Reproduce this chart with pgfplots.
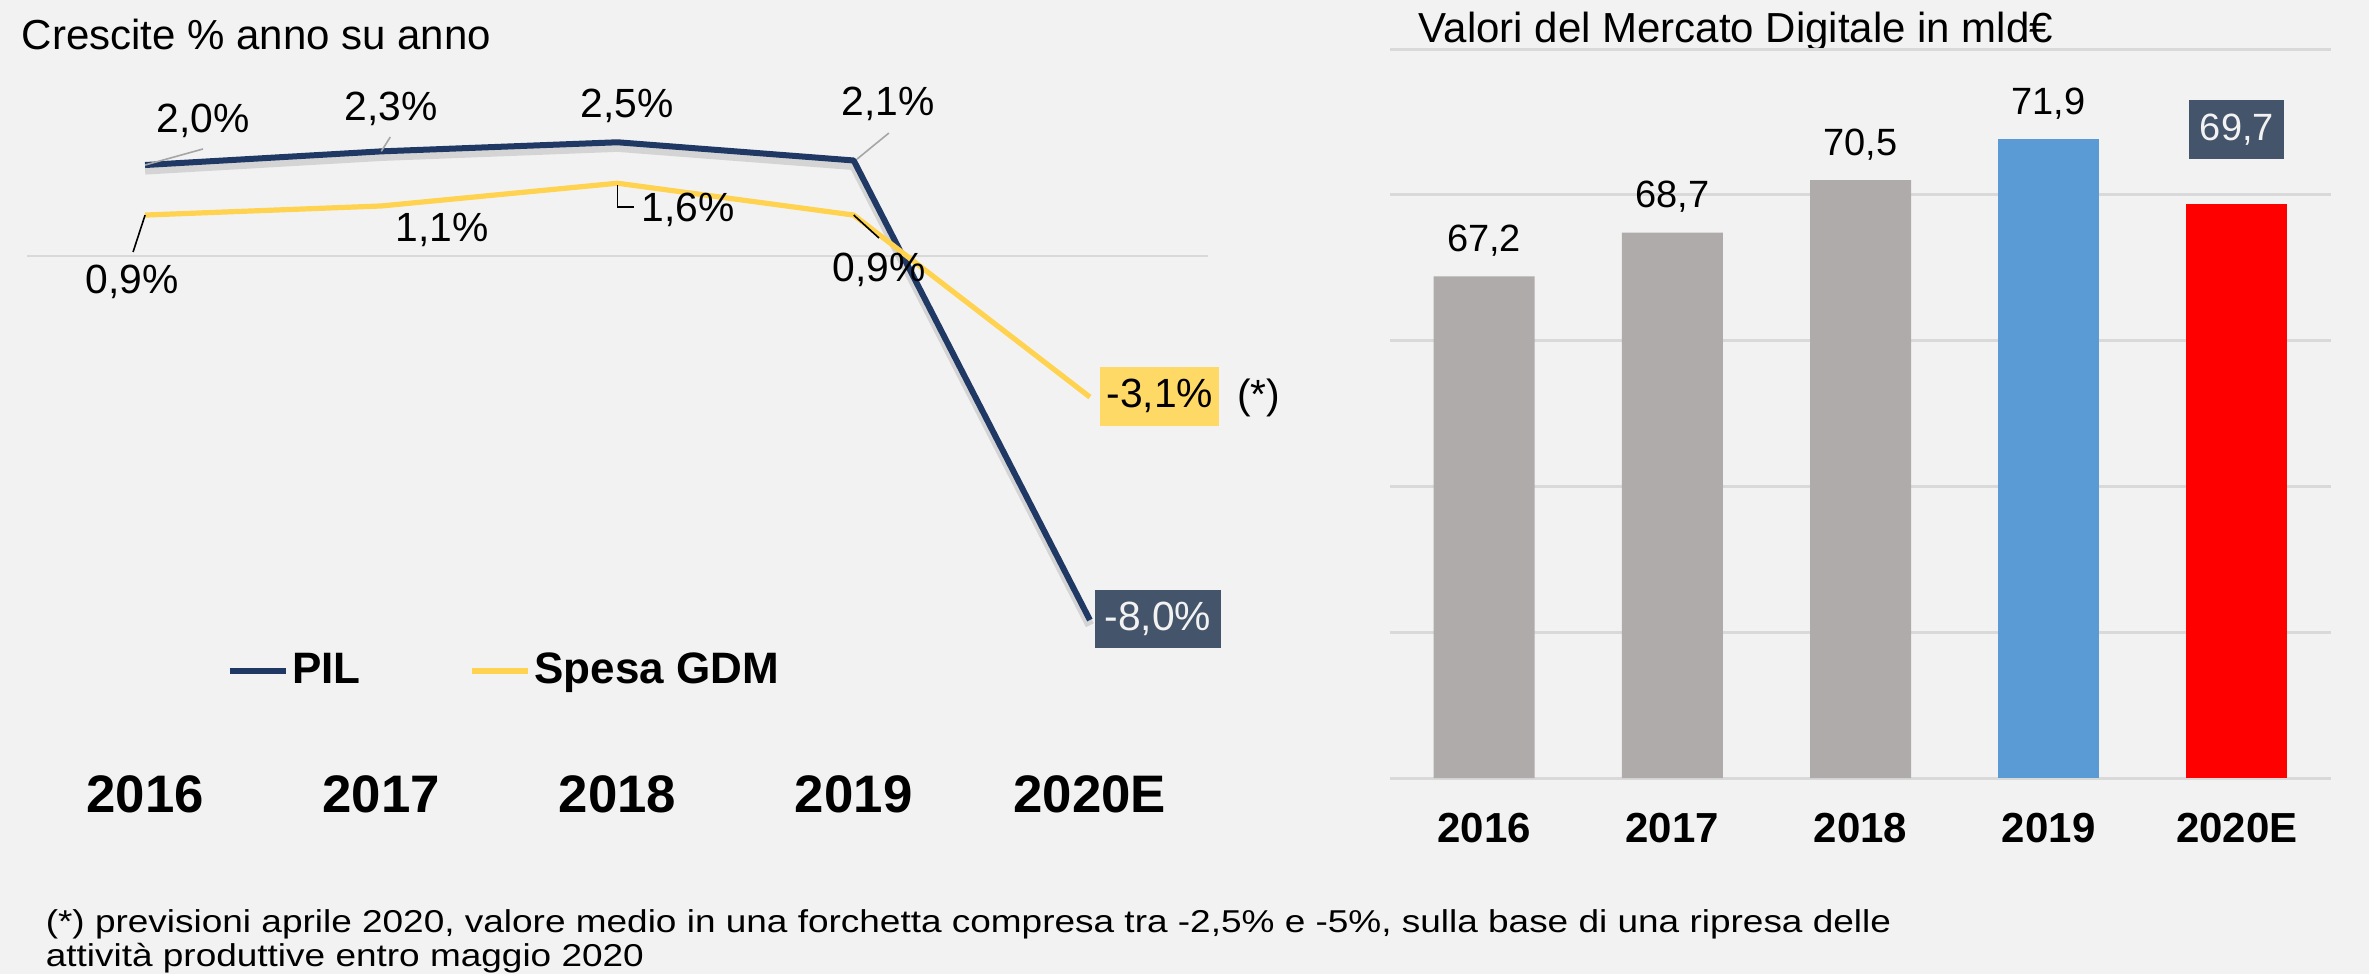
\documentclass[border=0pt]{standalone}
\usepackage{fontspec}
\setmainfont{Liberation Sans}
\newfontfamily\footfont[FakeStretch=1.17]{Liberation Sans}
\usepackage{pgfplots}
\pgfplotsset{compat=1.18}
\definecolor{bg}{HTML}{F2F2F2}
\definecolor{pil}{HTML}{203864}
\definecolor{gdm}{HTML}{FFD34F}
\definecolor{yelbox}{HTML}{FFD966}
\definecolor{darkbox}{HTML}{44546A}
\definecolor{boxtext}{HTML}{F2F2F2}
\definecolor{gridc}{HTML}{D9D9D9}
\definecolor{graybar}{HTML}{AFABAB}
\definecolor{bluebar}{HTML}{5B9BD5}
\definecolor{redbar}{HTML}{FF0000}
\definecolor{leadgray}{HTML}{A6A6A6}
\newcommand{\lab}{\fontsize{10.2}{12}\selectfont}
\begin{document}
\begin{tikzpicture}
\path[use as bounding box, fill=bg] (0,0) rectangle (592.25pt,-243.5pt);
% titles
\node[anchor=base west, inner sep=0pt, font=\fontsize{10.5}{12}\selectfont] at (5.25pt,-12.5pt) {Crescite \% anno su anno};
\node[anchor=base west, inner sep=0pt, font=\fontsize{10.5}{12}\selectfont] at (354.5pt,-10.5pt) {Valori del Mercato Digitale in mld€};
% footnote
\node[anchor=base west, inner sep=0pt, font=\footfont\fontsize{7.9}{9}\selectfont] at (11.25pt,-233pt) {(*) previsioni aprile 2020, valore medio in una forchetta compresa tra -2,5\% e -5\%, sulla base di una ripresa delle};
\node[anchor=base west, inner sep=0pt, font=\footfont\fontsize{7.9}{9}\selectfont] at (11.25pt,-241.5pt) {attività produttive entro maggio 2020};

% left line chart
\begin{axis}[
  at={(6.75pt,-198.5pt)}, anchor=south west,
  width=295.25pt, height=183.5pt, scale only axis,
  xmin=-0.5, xmax=4.5, ymin=-11.824, ymax=4.308,
  axis line style={draw=none},
  xtick={0,1,2,3,4}, xticklabels={2016,2017,2018,2019,2020E},
  xticklabel style={anchor=center, font=\fontsize{13.2}{15}\selectfont\bfseries},
  ytick={0}, yticklabels={}, ymajorgrids,
  major grid style={draw=gridc, line width=0.6pt},
  major tick length=0pt,
  clip=false,
  legend columns=2,
  legend style={at={(0.1685,0.1676)}, anchor=west, draw=none, fill=none,
    inner sep=0pt, font=\fontsize{11}{13}\selectfont\bfseries,
    nodes={inner sep=1pt},
    /tikz/every even column/.append style={column sep=26pt}},
  legend image code/.code={\draw[#1, line width=1.4pt] (0pt,0pt) -- (14pt,0pt);},
]
% soft shadows
\addplot[black, opacity=0.12, line width=2.2pt, line join=round, yshift=-1.3pt, forget plot] coordinates {(0,2.0) (1,2.3) (2,2.5) (3,2.1) (4,-8.0)};
\addplot[pil, line width=1.5pt, line join=round] coordinates {(0,2.0) (1,2.3) (2,2.5) (3,2.1) (4,-8.0)};
\addlegendentry{PIL}
\addplot[gdm, line width=1.3pt, line join=round] coordinates {(0,0.9) (1,1.1) (2,1.6) (3,0.9) (4,-3.1)};
\addlegendentry{Spesa GDM}
% leader lines
\draw[leadgray, line width=0.4pt] (axis cs:0,2.0) -- (axis cs:0.245,2.352);
\draw[leadgray, line width=0.4pt] (axis cs:1.0,2.3) -- (axis cs:1.038,2.615);
\draw[leadgray, line width=0.4pt] (axis cs:3.014,2.13) -- (axis cs:3.149,2.703);
\draw[black, line width=0.4pt] (axis cs:0,0.9) -- (axis cs:-0.051,0.088);
\draw[black, line width=0.4pt] (axis cs:2.0,1.56) -- (axis cs:2.0,1.077) -- (axis cs:2.068,1.077);
\draw[black, line width=0.4pt] (axis cs:3.0,0.9) -- (axis cs:3.107,0.396);
% labels
\node[font=\lab] at (axis cs:0.245,2.967) {2,0\%};
\node[font=\lab] at (axis cs:1.041,3.231) {2,3\%};
\node[font=\lab] at (axis cs:2.040,3.297) {2,5\%};
\node[font=\lab] at (axis cs:3.145,3.341) {2,1\%};
\node[font=\lab] at (axis cs:-0.055,-0.571) {0,9\%};
\node[font=\lab] at (axis cs:1.257,0.571) {1,1\%};
\node[font=\lab] at (axis cs:2.298,1.011) {1,6\%};
\node[font=\lab] at (axis cs:3.107,-0.308) {0,9\%};
\node[font=\lab, fill=darkbox, text=boxtext, minimum width=31.5pt, minimum height=14.5pt, inner sep=0pt] at (axis cs:4.288,-7.978) {-8,0\%};
\node[font=\lab, fill=yelbox, text=black, minimum width=29.75pt, minimum height=14.75pt, inner sep=0pt] at (axis cs:4.296,-3.077) {-3,1\%};
\node[font=\lab] at (axis cs:4.715,-3.121) {(*)};
\end{axis}

% right bar chart
\begin{axis}[
  at={(347.5pt,-194.5pt)}, anchor=south west,
  width=235.25pt, height=182.25pt, scale only axis,
  xmin=-0.5, xmax=4.5, ymin=50, ymax=75,
  ybar, bar width=25.25pt,
  axis line style={draw=none},
  xtick={0,1,2,3,4}, xticklabels={2016,2017,2018,2019,2020E},
  xticklabel style={anchor=center, yshift=-12.5pt, font=\fontsize{10.5}{12}\selectfont\bfseries},
  ytick={50,55,60,65,70,75}, yticklabels={}, ymajorgrids,
  major grid style={draw=gridc, line width=0.75pt},
  major tick length=0pt,
  /pgf/number format/.cd, use comma, fixed, fixed zerofill, precision=1, assume math mode=true,
  /pgfplots/.cd,
  nodes near coords,
  nodes near coords style={anchor=center, yshift=9pt, font=\fontsize{9.5}{11}\selectfont, text=black},
]
\addplot[fill=graybar, draw=none, bar shift=0pt] coordinates {(0,67.2) (1,68.7) (2,70.5)};
\addplot[fill=bluebar, draw=none, bar shift=0pt] coordinates {(3,71.9)};
\addplot[fill=redbar, draw=none, bar shift=0pt,
  nodes near coords style={anchor=center, yshift=9.5pt, fill=darkbox, text=boxtext, minimum width=23.75pt, minimum height=14.75pt, inner sep=0pt, font=\fontsize{9.5}{11}\selectfont}] coordinates {(4,69.7)};
\end{axis}
\end{tikzpicture}
\end{document}
